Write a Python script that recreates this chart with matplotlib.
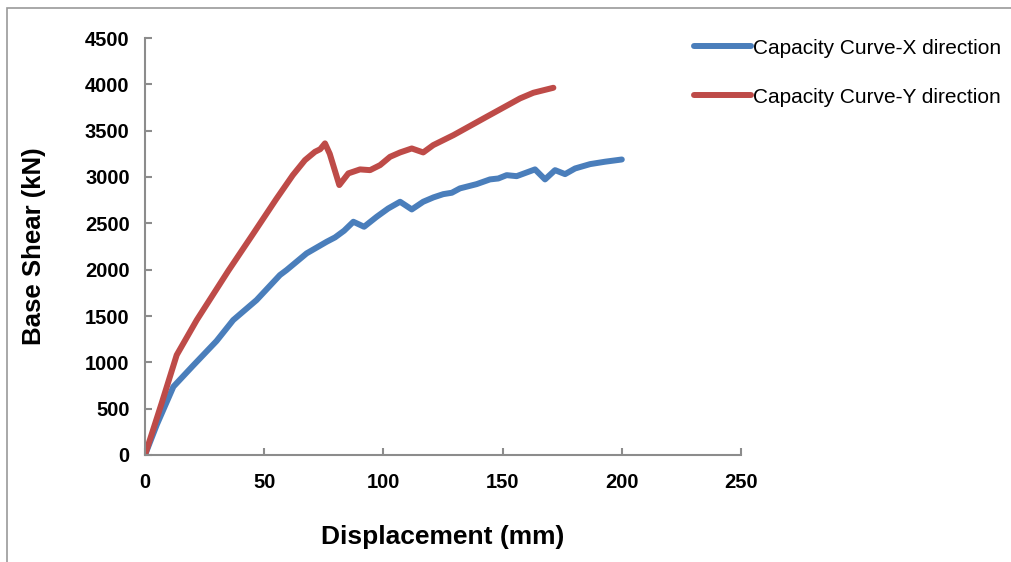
import numpy as np
import matplotlib
matplotlib.use("Agg")
from matplotlib import pyplot as plt
from matplotlib.patches import Rectangle

# Capacity curve X direction (displacement mm, base shear kN)
disp_x = [0, 5, 11.9, 20, 30, 37, 46.8, 56.6, 59.4, 67.8, 76.2, 79.7, 83.5, 87.4,
          91.9, 97.2, 102, 107, 111.9, 116.7, 121, 125.1, 128.7, 132.1, 139.1, 144.7,
          148.2, 151.7, 155.9, 163.6, 167.8, 172, 176.2, 180.4, 186.7, 193, 200]
shear_x = [0, 330, 737, 960, 1230, 1456, 1672, 1942, 1996, 2176, 2301, 2348, 2420, 2517,
           2463, 2571, 2660, 2733, 2650, 2733, 2780, 2815, 2830, 2877, 2923, 2974,
           2984, 3020, 3009, 3082, 2974, 3074, 3031, 3092, 3139, 3165, 3189]

# Capacity curve Y direction
disp_y = [0, 7, 13.3, 21.7, 35, 45, 55, 62, 67.1, 71.3, 73.5, 75.5, 77.5, 81.5,
          85.3, 90.2, 94.4, 98.6, 102.8, 107, 111.9, 116.7, 120.9, 129.4, 143.3,
          157.3, 162.9, 171.3]
shear_y = [0, 560, 1079, 1456, 1990, 2373, 2760, 3020, 3182, 3272, 3300, 3363, 3250, 2913,
           3039, 3082, 3074, 3128, 3218, 3265, 3308, 3265, 3344, 3452, 3650,
           3848, 3909, 3963]

x_ticks = [0, 50, 100, 150, 200, 250]
y_ticks = [0, 500, 1000, 1500, 2000, 2500, 3000, 3500, 4000, 4500]

blue = "#4A7EBB"
red = "#BE4B48"
grey = "#8C8C8C"

plt.rcParams["font.family"] = ["Liberation Sans", "DejaVu Sans"]

fig = plt.figure(figsize=(10.11, 5.62), dpi=100)
ax = fig.add_axes([145 / 1011, 1 - 455 / 562, (741 - 145) / 1011, (455 - 38) / 562])

ax.plot(disp_x, shear_x, color=blue, lw=4.3, solid_joinstyle="round",
        solid_capstyle="round", label="Capacity Curve-X direction")
ax.plot(disp_y, shear_y, color=red, lw=4.3, solid_joinstyle="round",
        solid_capstyle="round", label="Capacity Curve-Y direction")

ax.set_xlim(0, 250)
ax.set_ylim(0, 4500)
ax.set_xticks(x_ticks)
ax.set_yticks(y_ticks)
for s in ["top", "right"]:
    ax.spines[s].set_visible(False)
for s in ["left", "bottom"]:
    ax.spines[s].set_color(grey)
    ax.spines[s].set_linewidth(1.5)
ax.tick_params(direction="in", length=5, width=1.5, color=grey,
               labelsize=14.5, pad=11)
ax.tick_params(axis="x", pad=13)
for lab in ax.get_xticklabels() + ax.get_yticklabels():
    lab.set_fontweight("bold")

ax.set_xlabel("Displacement (mm)", fontsize=19, fontweight="bold", labelpad=24)
ax.set_ylabel("Base Shear (kN)", fontsize=18.5, fontweight="bold", labelpad=28)

leg = ax.legend(loc="upper left", bbox_to_anchor=(679 / 1011, 1 - 24 / 562),
                bbox_transform=fig.transFigure, frameon=False, fontsize=15,
                handlelength=2.75, handletextpad=0.12, labelspacing=1.45,
                borderpad=0.2)
for h in leg.get_lines():
    h.set_linewidth(4.3)

# outer chart border (cropped on the right and bottom)
fig.patches.append(Rectangle((7 / 1011, -0.1), 1.2, 1 - 8 / 562 + 0.1,
                             transform=fig.transFigure, fill=False,
                             edgecolor="#9A9A9A", lw=1.2))

fig.savefig("out.png", dpi=100)
